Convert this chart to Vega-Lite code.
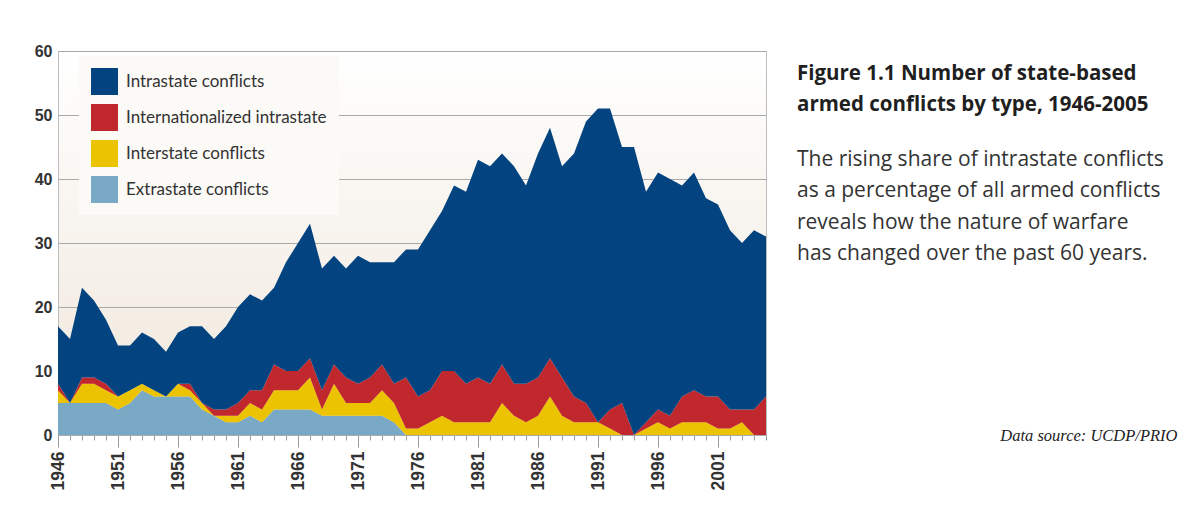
{
  "$schema": "https://vega.github.io/schema/vega-lite/v6.json",
  "autosize": {"type": "none"},
  "width": 708,
  "height": 384,
  "padding": {"left": 58, "top": 51, "right": 429, "bottom": 96},
  "background": "#ffffff",
  "title": {
    "text": ["Figure 1.1 Number of state-based", "armed conflicts by type, 1946-2005"],
    "subtitle": ["The rising share of intrastate conflicts", "as a percentage of all armed conflicts", "reveals how the nature of warfare", "has changed over the past 60 years."],
    "orient": "top",
    "anchor": "start",
    "frame": "group",
    "offset": 0,
    "dx": 739,
    "dy": 221,
    "font": "Open Sans",
    "fontSize": 20.5,
    "fontWeight": "bold",
    "color": "#1f1f1f",
    "lineHeight": 31,
    "subtitleFont": "Open Sans",
    "subtitleFontSize": 21,
    "subtitleFontWeight": "normal",
    "subtitleColor": "#333333",
    "subtitleLineHeight": 31.5,
    "subtitlePadding": 33
  },
  "data": {
    "values": [
      {"year": 1946, "Extrastate conflicts": 5, "Interstate conflicts": 2, "Internationalized intrastate": 1, "Intrastate conflicts": 9},
      {"year": 1947, "Extrastate conflicts": 5, "Interstate conflicts": 0, "Internationalized intrastate": 0, "Intrastate conflicts": 10},
      {"year": 1948, "Extrastate conflicts": 5, "Interstate conflicts": 3, "Internationalized intrastate": 1, "Intrastate conflicts": 14},
      {"year": 1949, "Extrastate conflicts": 5, "Interstate conflicts": 3, "Internationalized intrastate": 1, "Intrastate conflicts": 12},
      {"year": 1950, "Extrastate conflicts": 5, "Interstate conflicts": 2, "Internationalized intrastate": 1, "Intrastate conflicts": 10},
      {"year": 1951, "Extrastate conflicts": 4, "Interstate conflicts": 2, "Internationalized intrastate": 0, "Intrastate conflicts": 8},
      {"year": 1952, "Extrastate conflicts": 5, "Interstate conflicts": 2, "Internationalized intrastate": 0, "Intrastate conflicts": 7},
      {"year": 1953, "Extrastate conflicts": 7, "Interstate conflicts": 1, "Internationalized intrastate": 0, "Intrastate conflicts": 8},
      {"year": 1954, "Extrastate conflicts": 6, "Interstate conflicts": 1, "Internationalized intrastate": 0, "Intrastate conflicts": 8},
      {"year": 1955, "Extrastate conflicts": 6, "Interstate conflicts": 0, "Internationalized intrastate": 0, "Intrastate conflicts": 7},
      {"year": 1956, "Extrastate conflicts": 6, "Interstate conflicts": 2, "Internationalized intrastate": 0, "Intrastate conflicts": 8},
      {"year": 1957, "Extrastate conflicts": 6, "Interstate conflicts": 1, "Internationalized intrastate": 1, "Intrastate conflicts": 9},
      {"year": 1958, "Extrastate conflicts": 4, "Interstate conflicts": 1, "Internationalized intrastate": 0, "Intrastate conflicts": 12},
      {"year": 1959, "Extrastate conflicts": 3, "Interstate conflicts": 0, "Internationalized intrastate": 1, "Intrastate conflicts": 11},
      {"year": 1960, "Extrastate conflicts": 2, "Interstate conflicts": 1, "Internationalized intrastate": 1, "Intrastate conflicts": 13},
      {"year": 1961, "Extrastate conflicts": 2, "Interstate conflicts": 1, "Internationalized intrastate": 2, "Intrastate conflicts": 15},
      {"year": 1962, "Extrastate conflicts": 3, "Interstate conflicts": 2, "Internationalized intrastate": 2, "Intrastate conflicts": 15},
      {"year": 1963, "Extrastate conflicts": 2, "Interstate conflicts": 2, "Internationalized intrastate": 3, "Intrastate conflicts": 14},
      {"year": 1964, "Extrastate conflicts": 4, "Interstate conflicts": 3, "Internationalized intrastate": 4, "Intrastate conflicts": 12},
      {"year": 1965, "Extrastate conflicts": 4, "Interstate conflicts": 3, "Internationalized intrastate": 3, "Intrastate conflicts": 17},
      {"year": 1966, "Extrastate conflicts": 4, "Interstate conflicts": 3, "Internationalized intrastate": 3, "Intrastate conflicts": 20},
      {"year": 1967, "Extrastate conflicts": 4, "Interstate conflicts": 5, "Internationalized intrastate": 3, "Intrastate conflicts": 21},
      {"year": 1968, "Extrastate conflicts": 3, "Interstate conflicts": 1, "Internationalized intrastate": 3, "Intrastate conflicts": 19},
      {"year": 1969, "Extrastate conflicts": 3, "Interstate conflicts": 5, "Internationalized intrastate": 3, "Intrastate conflicts": 17},
      {"year": 1970, "Extrastate conflicts": 3, "Interstate conflicts": 2, "Internationalized intrastate": 4, "Intrastate conflicts": 17},
      {"year": 1971, "Extrastate conflicts": 3, "Interstate conflicts": 2, "Internationalized intrastate": 3, "Intrastate conflicts": 20},
      {"year": 1972, "Extrastate conflicts": 3, "Interstate conflicts": 2, "Internationalized intrastate": 4, "Intrastate conflicts": 18},
      {"year": 1973, "Extrastate conflicts": 3, "Interstate conflicts": 4, "Internationalized intrastate": 4, "Intrastate conflicts": 16},
      {"year": 1974, "Extrastate conflicts": 2, "Interstate conflicts": 3, "Internationalized intrastate": 3, "Intrastate conflicts": 19},
      {"year": 1975, "Extrastate conflicts": 0, "Interstate conflicts": 1, "Internationalized intrastate": 8, "Intrastate conflicts": 20},
      {"year": 1976, "Extrastate conflicts": 0, "Interstate conflicts": 1, "Internationalized intrastate": 5, "Intrastate conflicts": 23},
      {"year": 1977, "Extrastate conflicts": 0, "Interstate conflicts": 2, "Internationalized intrastate": 5, "Intrastate conflicts": 25},
      {"year": 1978, "Extrastate conflicts": 0, "Interstate conflicts": 3, "Internationalized intrastate": 7, "Intrastate conflicts": 25},
      {"year": 1979, "Extrastate conflicts": 0, "Interstate conflicts": 2, "Internationalized intrastate": 8, "Intrastate conflicts": 29},
      {"year": 1980, "Extrastate conflicts": 0, "Interstate conflicts": 2, "Internationalized intrastate": 6, "Intrastate conflicts": 30},
      {"year": 1981, "Extrastate conflicts": 0, "Interstate conflicts": 2, "Internationalized intrastate": 7, "Intrastate conflicts": 34},
      {"year": 1982, "Extrastate conflicts": 0, "Interstate conflicts": 2, "Internationalized intrastate": 6, "Intrastate conflicts": 34},
      {"year": 1983, "Extrastate conflicts": 0, "Interstate conflicts": 5, "Internationalized intrastate": 6, "Intrastate conflicts": 33},
      {"year": 1984, "Extrastate conflicts": 0, "Interstate conflicts": 3, "Internationalized intrastate": 5, "Intrastate conflicts": 34},
      {"year": 1985, "Extrastate conflicts": 0, "Interstate conflicts": 2, "Internationalized intrastate": 6, "Intrastate conflicts": 31},
      {"year": 1986, "Extrastate conflicts": 0, "Interstate conflicts": 3, "Internationalized intrastate": 6, "Intrastate conflicts": 35},
      {"year": 1987, "Extrastate conflicts": 0, "Interstate conflicts": 6, "Internationalized intrastate": 6, "Intrastate conflicts": 36},
      {"year": 1988, "Extrastate conflicts": 0, "Interstate conflicts": 3, "Internationalized intrastate": 6, "Intrastate conflicts": 33},
      {"year": 1989, "Extrastate conflicts": 0, "Interstate conflicts": 2, "Internationalized intrastate": 4, "Intrastate conflicts": 38},
      {"year": 1990, "Extrastate conflicts": 0, "Interstate conflicts": 2, "Internationalized intrastate": 3, "Intrastate conflicts": 44},
      {"year": 1991, "Extrastate conflicts": 0, "Interstate conflicts": 2, "Internationalized intrastate": 0, "Intrastate conflicts": 49},
      {"year": 1992, "Extrastate conflicts": 0, "Interstate conflicts": 1, "Internationalized intrastate": 3, "Intrastate conflicts": 47},
      {"year": 1993, "Extrastate conflicts": 0, "Interstate conflicts": 0, "Internationalized intrastate": 5, "Intrastate conflicts": 40},
      {"year": 1994, "Extrastate conflicts": 0, "Interstate conflicts": 0, "Internationalized intrastate": 0, "Intrastate conflicts": 45},
      {"year": 1995, "Extrastate conflicts": 0, "Interstate conflicts": 1, "Internationalized intrastate": 1, "Intrastate conflicts": 36},
      {"year": 1996, "Extrastate conflicts": 0, "Interstate conflicts": 2, "Internationalized intrastate": 2, "Intrastate conflicts": 37},
      {"year": 1997, "Extrastate conflicts": 0, "Interstate conflicts": 1, "Internationalized intrastate": 2, "Intrastate conflicts": 37},
      {"year": 1998, "Extrastate conflicts": 0, "Interstate conflicts": 2, "Internationalized intrastate": 4, "Intrastate conflicts": 33},
      {"year": 1999, "Extrastate conflicts": 0, "Interstate conflicts": 2, "Internationalized intrastate": 5, "Intrastate conflicts": 34},
      {"year": 2000, "Extrastate conflicts": 0, "Interstate conflicts": 2, "Internationalized intrastate": 4, "Intrastate conflicts": 31},
      {"year": 2001, "Extrastate conflicts": 0, "Interstate conflicts": 1, "Internationalized intrastate": 5, "Intrastate conflicts": 30},
      {"year": 2002, "Extrastate conflicts": 0, "Interstate conflicts": 1, "Internationalized intrastate": 3, "Intrastate conflicts": 28},
      {"year": 2003, "Extrastate conflicts": 0, "Interstate conflicts": 2, "Internationalized intrastate": 2, "Intrastate conflicts": 26},
      {"year": 2004, "Extrastate conflicts": 0, "Interstate conflicts": 0, "Internationalized intrastate": 4, "Intrastate conflicts": 28},
      {"year": 2005, "Extrastate conflicts": 0, "Interstate conflicts": 0, "Internationalized intrastate": 6, "Intrastate conflicts": 25}
    ]
  },
  "transform": [
    {"fold": ["Extrastate conflicts", "Interstate conflicts", "Internationalized intrastate", "Intrastate conflicts"], "as": ["type", "count"]},
    {"calculate": "indexof(['Extrastate conflicts', 'Interstate conflicts', 'Internationalized intrastate', 'Intrastate conflicts'], datum.type)", "as": "stackRank"}
  ],
  "mark": {"type": "area", "interpolate": "linear"},
  "encoding": {
    "x": {
      "field": "year",
      "type": "quantitative",
      "scale": {"domain": [1946, 2005], "nice": false, "zero": false},
      "axis": {
        "values": [1946,1947,1948,1949,1950,1951,1952,1953,1954,1955,1956,1957,1958,1959,1960,1961,1962,1963,1964,1965,1966,1967,1968,1969,1970,1971,1972,1973,1974,1975,1976,1977,1978,1979,1980,1981,1982,1983,1984,1985,1986,1987,1988,1989,1990,1991,1992,1993,1994,1995,1996,1997,1998,1999,2000,2001,2002,2003,2004,2005],
        "format": "d",
        "labelExpr": "(datum.value - 1946) % 5 === 0 ? datum.label : ''",
        "labelAngle": -90,
        "labelFont": "Liberation Sans",
        "labelFontSize": 17.5,
        "labelFontWeight": "bold",
        "labelColor": "#333333",
        "labelPadding": 4,
        "labelOverlap": false,
        "labelFlush": false,
        "tickColor": "#9a9a9a",
        "tickSize": {"condition": {"test": "(datum.value - 1946) % 5 === 0", "value": 12}, "value": 5},
        "domainColor": "#aaaaaa",
        "grid": false,
        "title": "Data source: UCDP/PRIO",
        "titleFont": "Liberation Serif",
        "titleFontStyle": "italic",
        "titleFontWeight": "normal",
        "titleFontSize": 16.5,
        "titleColor": "#222222",
        "titleAlign": "right",
        "titleBaseline": "alphabetic",
        "titleX": 1119,
        "titleY": 5
      }
    },
    "y": {
      "field": "count",
      "type": "quantitative",
      "stack": "zero",
      "scale": {"domain": [0, 60], "nice": false},
      "axis": {
        "values": [0, 10, 20, 30, 40, 50, 60],
        "labelFont": "Liberation Sans",
        "labelFontSize": 16,
        "labelFontWeight": "bold",
        "labelColor": "#333333",
        "labelPadding": 6,
        "ticks": false,
        "domain": false,
        "grid": true,
        "gridColor": "#a9a9a9",
        "gridWidth": 1,
        "title": null
      }
    },
    "color": {
      "field": "type",
      "type": "nominal",
      "scale": {
        "domain": ["Intrastate conflicts", "Internationalized intrastate", "Interstate conflicts", "Extrastate conflicts"],
        "range": ["#03437f", "#c1282e", "#ecc300", "#7aa9c6"]
      },
      "legend": {
        "orient": "none",
        "legendX": 21,
        "legendY": 5,
        "padding": 12,
        "fillColor": "#fcfaf7",
        "title": null,
        "symbolType": "square",
        "symbolSize": 729,
        "symbolStrokeWidth": 0,
        "symbolOpacity": 1,
        "rowPadding": 9,
        "labelFont": "Lato",
        "labelFontSize": 17,
        "labelColor": "#333333",
        "labelOffset": 8,
        "labelLimit": 400
      }
    },
    "order": {"field": "stackRank", "type": "quantitative", "sort": "ascending"}
  },
  "config": {
    "view": {
      "stroke": "#bdbdbd",
      "strokeWidth": 1,
      "fill": {
        "gradient": "linear",
        "x1": 0, "y1": 0, "x2": 0, "y2": 1,
        "stops": [
          {"offset": 0, "color": "#ffffff"},
          {"offset": 1, "color": "#efe6da"}
        ]
      }
    }
  }
}
